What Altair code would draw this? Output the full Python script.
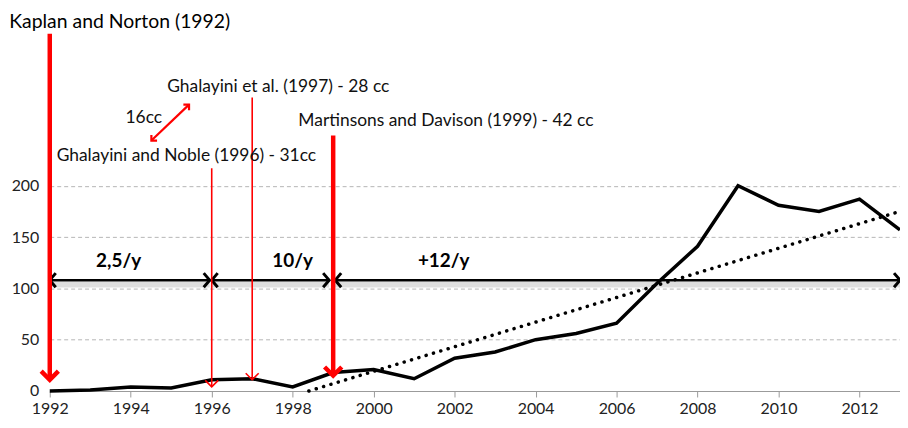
import altair as alt
import pandas as pd

# ---- data ----
years = list(range(1992, 2014))
counts = [0, 1, 4, 3, 11, 12, 4, 18, 21, 12, 32, 38, 50, 56, 66, 105, 141, 200, 181, 175, 187, 157]

trend_years = [1998.4, 2013]
trend_values = [0, 175]

ref_years = [1992, 1996, 1997, 1999]
ref_top = [348, 217, 286, 249]
ref_tip = [11, 4, 11, 15]
ref_kind = ["major", "minor", "minor", "major"]

span_start = [1992, 1996, 1999.05]
span_end = [1995.95, 1998.9, 2013]
span_level = 108
span_labels = ["2,5/y", "10/y", "+12/y"]
span_label_x = [1993.7, 1998.0, 2001.73]
span_label_y = 127

title_text = ["Kaplan and Norton (1992)"]
title_x = [1991.0]
title_y = [359]

note_texts = ["Ghalayini et al. (1997) - 28 cc", "16cc",
              "Martinsons and Davison (1999) - 42 cc", "Ghalayini and Noble (1996) - 31cc"]
note_x = [1994.9, 1993.87, 1998.14, 1992.17]
note_y = [296, 266, 263, 229]

link_x = [1994.51, 1995.44]
link_y = [244, 279]

x_ticks = list(range(1992, 2013, 2))
y_ticks = [0, 50, 100, 150, 200]

# ---- tables ----
line_df = pd.DataFrame({"year": years, "count": counts})
trend_df = pd.DataFrame({"year": trend_years, "count": trend_values})
ref_df = pd.DataFrame({"year": ref_years, "top": ref_top, "tip": ref_tip, "kind": ref_kind})
span_df = pd.DataFrame({"x1": span_start, "x2": span_end, "y": [span_level] * 3})
span_lab_df = pd.DataFrame({"x": span_label_x, "y": [span_label_y] * 3, "t": span_labels})
left_heads = pd.DataFrame({"x": span_start, "y": [span_level] * 3})
right_heads = pd.DataFrame({"x": span_end, "y": [span_level] * 3})
title_df = pd.DataFrame({"x": title_x, "y": title_y, "t": title_text})
note_df = pd.DataFrame({"x": note_x, "y": note_y, "t": note_texts})
link_df = pd.DataFrame({"x": link_x, "y": link_y})

FONT = "Lato"
RED = "#ff0000"
xs = alt.Scale(domain=[1992, 2013], nice=False, zero=False)
ys = alt.Scale(domain=[0, 372], nice=False, zero=True)

x_axis = alt.Axis(values=x_ticks, format="d", title=None, grid=False, labelFlush=False,
                  domainColor="#9a9a9a", tickColor="#9a9a9a", tickSize=6,
                  labelFont=FONT, labelFontSize=16, labelColor="#222", labelPadding=4)
y_axis = alt.Axis(values=y_ticks, title=None, grid=True, gridDash=[4, 3], gridColor="#b5b5b5",
                  domain=False, ticks=False, labelFont=FONT, labelFontSize=16,
                  labelColor="#222", labelPadding=11)


def X(f):
    return alt.X(f, type="quantitative", scale=xs, axis=x_axis)


def Y(f):
    return alt.Y(f, type="quantitative", scale=ys, axis=y_axis)


main = alt.Chart(line_df).mark_line(color="black", strokeWidth=3.5, strokeJoin="miter").encode(
    x=X("year"), y=Y("count"))

trend = alt.Chart(trend_df).mark_line(color="black", strokeWidth=3.5, strokeDash=[0.1, 7.6],
                                      strokeCap="round").encode(x=X("year"), y=Y("count"))

shadow = alt.Chart(span_df).mark_rule(color="black", strokeWidth=6, opacity=0.13).encode(
    x=X("x1"), x2="x2", y=Y("y"), yOffset=alt.value(4.5))
spans = alt.Chart(span_df).mark_rule(color="black", strokeWidth=2.5).encode(
    x=X("x1"), x2="x2", y=Y("y"))
lh = alt.Chart(left_heads).mark_point(shape="M0.85,-1L0,0L0.85,1", filled=False, color="black",
                                      strokeWidth=3, size=200, opacity=1).encode(x=X("x"), y=Y("y"))
rh = alt.Chart(right_heads).mark_point(shape="M-0.85,-1L0,0L-0.85,1", filled=False, color="black",
                                       strokeWidth=3, size=200, opacity=1).encode(x=X("x"), y=Y("y"))
span_text = alt.Chart(span_lab_df).mark_text(font=FONT, fontSize=19, fontWeight="bold",
                                             color="black", baseline="middle").encode(
    x=X("x"), y=Y("y"), text="t")

major = ref_df[ref_df.kind == "major"]
minor = ref_df[ref_df.kind == "minor"]
red_major = alt.Chart(major).mark_rule(color=RED, strokeWidth=4.5).encode(
    x=X("year"), y=Y("top"), y2="tip")
red_major_head = alt.Chart(major).mark_point(shape="M-1,-1L0,0L1,-1", filled=False, color=RED,
                                             strokeWidth=4.5, size=300, opacity=1).encode(
    x=X("year"), y=Y("tip"))
red_minor = alt.Chart(minor).mark_rule(color=RED, strokeWidth=1.6).encode(
    x=X("year"), y=Y("top"), y2="tip")
red_minor_head = alt.Chart(minor).mark_point(shape="M-1,-1L0,0L1,-1", filled=False, color=RED,
                                             strokeWidth=1.6, size=170, opacity=1).encode(
    x=X("year"), y=Y("tip"))

link = alt.Chart(link_df).mark_line(color=RED, strokeWidth=2.2).encode(x=X("x"), y=Y("y"))
link_head_a = alt.Chart(link_df.iloc[[1]]).mark_point(shape="M-1,0L0,0L0,1", filled=False, color=RED,
                                                      strokeWidth=2.2, size=130, opacity=1).encode(
    x=X("x"), y=Y("y"))
link_head_b = alt.Chart(link_df.iloc[[0]]).mark_point(shape="M1,0L0,0L0,-1", filled=False, color=RED,
                                                      strokeWidth=2.2, size=130, opacity=1).encode(
    x=X("x"), y=Y("y"))

title = alt.Chart(title_df).mark_text(font=FONT, fontSize=19.5, color="black", align="left",
                                      baseline="middle").encode(x=X("x"), y=Y("y"), text="t")
notes = alt.Chart(note_df).mark_text(font=FONT, fontSize=17.5, color="#111", align="left",
                                     baseline="middle").encode(x=X("x"), y=Y("y"), text="t")

chart = alt.layer(
    main, trend, shadow, spans, lh, rh, span_text,
    red_minor, red_minor_head, red_major, red_major_head,
    link, link_head_a, link_head_b, title, notes,
).properties(
    width=855, height=384, autosize="none", background="white",
    padding={"left": 42, "top": 0, "right": 0, "bottom": 30},
).configure_view(stroke=None)

chart.save("out.html", embed_options={"renderer": "svg", "actions": False})
